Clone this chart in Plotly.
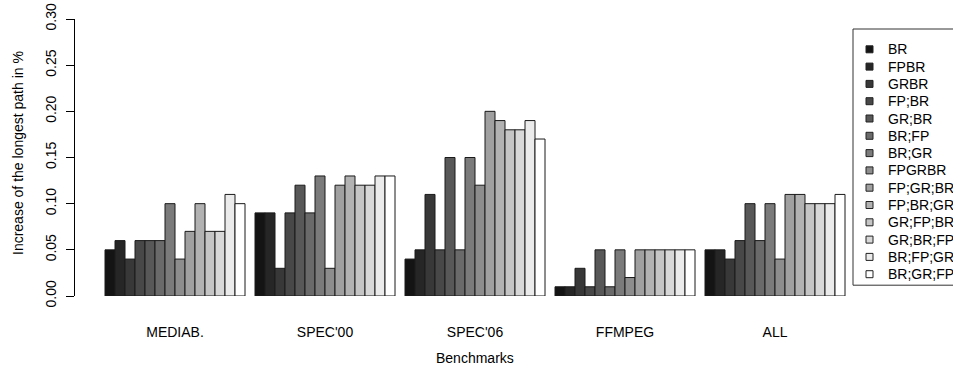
import plotly.graph_objects as go

# Benchmarks on the x axis and the scheduling configurations compared in each group
benchmarks = ["MEDIAB.", "SPEC'00", "SPEC'06", "FFMPEG", "ALL"]
configs = ["BR", "FPBR", "GRBR", "FP;BR", "GR;BR", "BR;FP", "BR;GR", "FPGRBR",
           "FP;GR;BR", "FP;BR;GR", "GR;FP;BR", "GR;BR;FP", "BR;FP;GR", "BR;GR;FP"]

# Increase of the longest path (%) per configuration, one list per benchmark
mediab = [0.05, 0.06, 0.04, 0.06, 0.06, 0.06, 0.10, 0.04, 0.07, 0.10, 0.07, 0.07, 0.11, 0.10]
spec00 = [0.09, 0.09, 0.03, 0.09, 0.12, 0.09, 0.13, 0.03, 0.12, 0.13, 0.12, 0.12, 0.13, 0.13]
spec06 = [0.04, 0.05, 0.11, 0.05, 0.15, 0.05, 0.15, 0.12, 0.20, 0.19, 0.18, 0.18, 0.19, 0.17]
ffmpeg = [0.01, 0.01, 0.03, 0.01, 0.05, 0.01, 0.05, 0.02, 0.05, 0.05, 0.05, 0.05, 0.05, 0.05]
all_bench = [0.05, 0.05, 0.04, 0.06, 0.10, 0.06, 0.10, 0.04, 0.11, 0.11, 0.10, 0.10, 0.10, 0.11]

y_ticks = [0.00, 0.05, 0.10, 0.15, 0.20, 0.25, 0.30]

# Grey ramp from near-black to white, one shade per configuration
greys = ["#141414", "#262626", "#383838", "#484848", "#585858", "#6a6a6a", "#7b7b7b",
         "#8d8d8d", "#a0a0a0", "#b2b2b2", "#c5c5c5", "#d8d8d8", "#ebebeb", "#ffffff"]

series = [mediab, spec00, spec06, ffmpeg, all_bench]
FONT = "Liberation Sans, Arial, Helvetica, sans-serif"

W, H = 953, 370
ML, MR, MT, MB = 75, 78, 19, 74
PW, PH = W - ML - MR, H - MT - MB


def px_x(px):
    """Pixel column -> paper x."""
    return (px - ML) / PW


def px_y(py):
    """Pixel row -> paper y."""
    return (H - MB - py) / PH


fig = go.Figure()
for i, name in enumerate(configs):
    fig.add_trace(go.Bar(
        x=benchmarks,
        y=[s[i] for s in series],
        name=name,
        showlegend=False,
        marker=dict(color=greys[i], line=dict(color="#1a1a1a", width=1)),
    ))

# Legend box in the top-right corner, running past the right edge of the page
legend_left, legend_top, row_h = 853, 29, 17.3
first_row = legend_top + 20.3
shapes = [dict(type="rect", xref="paper", yref="paper",
               x0=px_x(legend_left), x1=px_x(W + 20),
               y0=px_y(legend_top), y1=px_y(first_row + row_h * (len(configs) - 1) + 11),
               line=dict(color="#333", width=1), fillcolor="white", layer="above")]
annotations = []
for i, name in enumerate(configs):
    cy = first_row + row_h * i
    shapes.append(dict(type="rect", xref="paper", yref="paper",
                       x0=px_x(866), x1=px_x(873), y0=px_y(cy + 3.5), y1=px_y(cy - 3.5),
                       fillcolor=greys[i], line=dict(color="#222", width=1), layer="above"))
    annotations.append(dict(text=name, xref="paper", yref="paper",
                            x=px_x(886), y=px_y(cy), xanchor="left", yanchor="middle",
                            showarrow=False, font=dict(size=14, color="black")))

annotations += [
    dict(text="Benchmarks", xref="paper", yref="paper", x=0.5, y=0,
         xanchor="center", yanchor="middle", yshift=-62, showarrow=False,
         font=dict(size=14)),
    dict(text="Increase of the longest path in %", xref="paper", yref="paper",
         x=0, y=(296 - 153) / 277, xanchor="center", yanchor="middle",
         xshift=-57, textangle=-90, showarrow=False, font=dict(size=14)),
]

fig.update_layout(
    width=W, height=H,
    margin=dict(l=ML, r=MR, t=MT, b=MB, autoexpand=False),
    paper_bgcolor="white", plot_bgcolor="white",
    barmode="group", bargap=1 / 15, bargroupgap=0,
    font=dict(family=FONT, size=14, color="black"),
    showlegend=False,
    xaxis=dict(
        range=[-2 / 3, 4 + 2 / 3], showline=False, showgrid=False, zeroline=False,
        ticks="", ticklabelstandoff=26, tickfont=dict(size=14),
    ),
    yaxis=dict(
        range=[0, 0.30], tickvals=y_ticks, tickformat=".2f",
        showline=True, linecolor="black", linewidth=1,
        ticks="outside", ticklen=8, tickcolor="black",
        tickangle=-90, ticklabelstandoff=4,
        showgrid=False, zeroline=False, tickfont=dict(size=14),
    ),
    shapes=shapes,
    annotations=annotations,
)

fig.write_html("out.html")
